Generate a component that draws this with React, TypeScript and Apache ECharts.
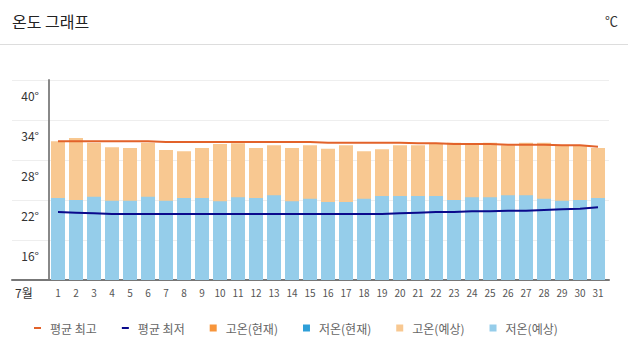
import React, { useEffect, useRef } from "react";
import * as echarts from "echarts";

const days = ["1","2","3","4","5","6","7","8","9","10","11","12","13","14","15","16","17","18","19","20","21","22","23","24","25","26","27","28","29","30","31"];
const highForecast = [30.8, 31.3, 30.6, 29.9, 29.8, 30.6, 29.5, 29.3, 29.8, 30.4, 30.5, 29.8, 30.2, 29.8, 30.2, 29.7, 30.2, 29.3, 29.6, 30.2, 30.2, 30.4, 30.6, 30.3, 30.6, 30.2, 30.6, 30.6, 30.2, 30.2, 29.8];
const lowForecast = [22.3, 22.0, 22.5, 21.9, 21.9, 22.5, 21.9, 22.3, 22.3, 21.8, 22.4, 22.3, 22.7, 21.8, 22.2, 21.7, 21.7, 22.2, 22.6, 22.6, 22.6, 22.6, 22.0, 22.4, 22.4, 22.7, 22.7, 22.2, 21.9, 22.0, 22.3];
const avgHigh = [30.8, 30.8, 30.8, 30.8, 30.8, 30.8, 30.7, 30.7, 30.7, 30.7, 30.7, 30.7, 30.7, 30.7, 30.7, 30.6, 30.6, 30.6, 30.6, 30.6, 30.5, 30.5, 30.4, 30.4, 30.4, 30.3, 30.3, 30.3, 30.2, 30.2, 30.0];
const avgLow = [20.2, 20.1, 20.0, 19.9, 19.9, 19.9, 19.9, 19.9, 19.9, 19.9, 19.9, 19.9, 19.9, 19.9, 19.9, 19.9, 19.9, 19.9, 19.9, 20.0, 20.1, 20.2, 20.2, 20.3, 20.3, 20.4, 20.4, 20.5, 20.6, 20.7, 20.9];
const highCurrent: number[] = [];
const lowCurrent: number[] = [];

const yMin = 10;
const yMax = 40;
const yStep = 6;

const FONT = "'Noto Sans CJK KR', 'Noto Sans', sans-serif";
const dashIcon = "path://M0,0M0,2.5L7,2.5L7,4.5L0,4.5ZM7,7";
const squareIcon = "path://M0,0L7,0L7,7L0,7Z";

export default function App() {
  const ref = useRef<HTMLDivElement>(null);
  useEffect(() => {
    if (!ref.current) return;
    const chart = echarts.init(ref.current, undefined, { renderer: "svg" });
    chart.setOption({
      animation: false,
      backgroundColor: "#ffffff",
      textStyle: { fontFamily: FONT },
      graphic: [
        { type: "text", left: 12, top: 13, style: { text: "온도 그래프", font: `16px ${FONT}`, fill: "#222" } },
        { type: "text", right: 10, top: 14, style: { text: "℃", font: `13px ${FONT}`, fill: "#333" } },
        { type: "line", shape: { x1: 0, y1: 44.5, x2: 628, y2: 44.5 }, style: { stroke: "#dddddd", lineWidth: 1 } },
        { type: "text", left: 15, top: 286, style: { text: "7월", font: `12px ${FONT}`, fill: "#333" } },
      ],
      legend: {
        left: 29,
        top: 317,
        itemWidth: 7,
        itemHeight: 7,
        itemGap: 25,
        textStyle: { fontSize: 12, color: "#666", padding: [0, 0, 0, 4], fontFamily: FONT },
        data: [
          { name: "평균 최고", icon: dashIcon },
          { name: "평균 최저", icon: dashIcon },
          { name: "고온(현재)", icon: squareIcon },
          { name: "저온(현재)", icon: squareIcon },
          { name: "고온(예상)", icon: squareIcon },
          { name: "저온(예상)", icon: squareIcon },
        ],
      },
      grid: [
        { left: 49, right: 21, top: 80, height: 200 },
        { left: 12, right: 19, top: 80, height: 200 },
      ],
      xAxis: [
        {
          type: "category",
          gridIndex: 0,
          data: days,
          axisLine: { show: false },
          axisTick: { show: false },
          axisLabel: { interval: 0, fontSize: 10, color: "#555", margin: 7, fontFamily: FONT },
        },
        {
          type: "value",
          gridIndex: 1,
          min: 0,
          max: 1,
          axisLine: { show: true, onZero: false, lineStyle: { color: "#777", width: 2 } },
          axisTick: { show: false },
          axisLabel: { show: false },
          splitLine: { show: false },
        },
      ],
      yAxis: [
        {
          type: "value",
          gridIndex: 0,
          min: yMin,
          max: yMax,
          interval: yStep,
          axisLine: { show: true, lineStyle: { color: "#888", width: 2 } },
          axisTick: { show: false },
          splitLine: { show: false },
          axisLabel: {
            color: "#333",
            fontSize: 12,
            margin: 10,
            verticalAlign: "top",
            padding: [9, 0, 0, 0],
            fontFamily: FONT,
            formatter: (v: number) => (v === yMin ? "" : `${v}°`),
          },
        },
        {
          type: "value",
          gridIndex: 1,
          min: yMin,
          max: yMax,
          interval: yStep,
          axisLine: { show: false },
          axisTick: { show: false },
          axisLabel: { show: false },
          splitLine: { show: true, lineStyle: { color: "#eeeeee", width: 1 } },
        },
      ],
      series: [
        { name: "고온(예상)", type: "bar", data: highForecast, barWidth: 14, barGap: "-100%", itemStyle: { color: "#f8c891" } },
        { name: "저온(예상)", type: "bar", data: lowForecast, barWidth: 14, barGap: "-100%", itemStyle: { color: "#95cdea" } },
        { name: "고온(현재)", type: "bar", data: highCurrent, barWidth: 14, barGap: "-100%", itemStyle: { color: "#f7953b" } },
        { name: "저온(현재)", type: "bar", data: lowCurrent, barWidth: 14, barGap: "-100%", itemStyle: { color: "#2e9fd8" } },
        { name: "평균 최고", type: "line", data: avgHigh, z: 5, showSymbol: false, symbol: "none", lineStyle: { color: "#e2622a", width: 2 }, itemStyle: { color: "#e2622a" } },
        { name: "평균 최저", type: "line", data: avgLow, z: 5, showSymbol: false, symbol: "none", lineStyle: { color: "#0a0a8c", width: 2 }, itemStyle: { color: "#0a0a8c" } },
      ],
    });
    return () => chart.dispose();
  }, []);
  return (
    <div
      ref={ref}
      style={{ position: "fixed", left: 0, top: 0, width: 628, height: 352 }}
    />
  );
}
